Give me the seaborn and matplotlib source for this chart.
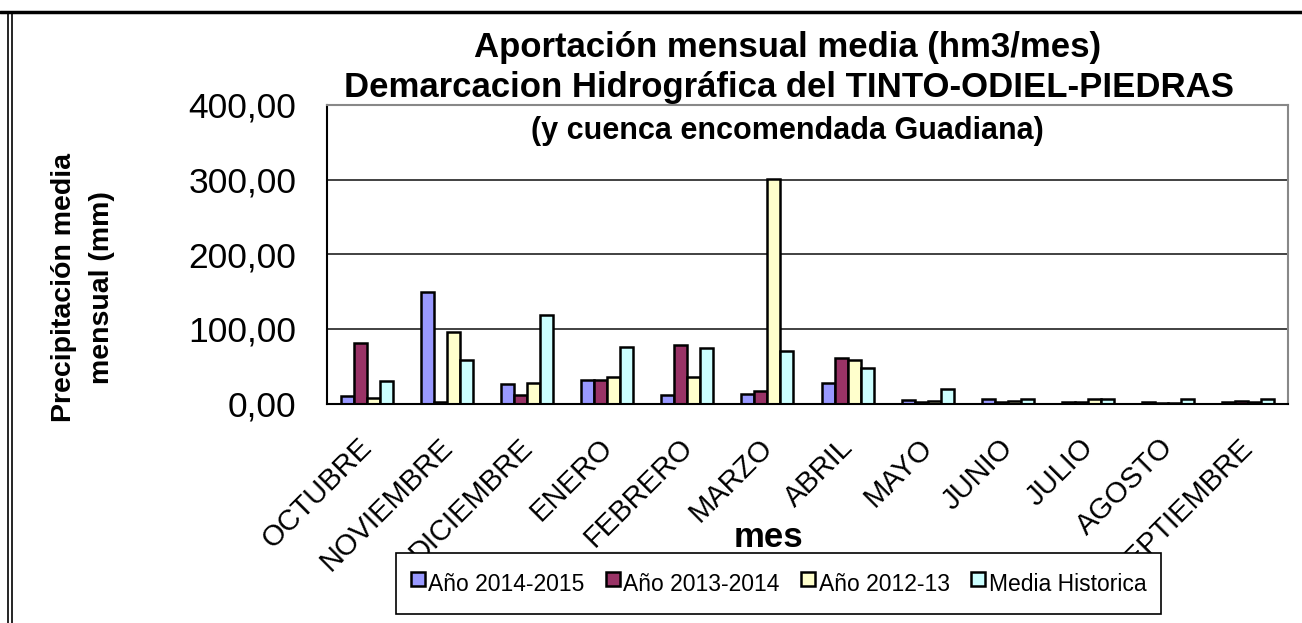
import numpy as np
import pandas as pd
import matplotlib
matplotlib.use("Agg")
import matplotlib.pyplot as plt
import seaborn as sns
from matplotlib.ticker import FuncFormatter, FixedLocator
from matplotlib.lines import Line2D
import matplotlib.transforms as mtransforms

meses = ["OCTUBRE", "NOVIEMBRE", "DICIEMBRE", "ENERO", "FEBRERO", "MARZO",
         "ABRIL", "MAYO", "JUNIO", "JULIO", "AGOSTO", "SEPTIEMBRE"]
series = ["Año 2014-2015", "Año 2013-2014", "Año 2012-13", "Media Historica"]
v_2014_2015 = [10, 149, 26, 32, 11.5, 13, 27, 5, 6, 1.5, 2, 1.5]
v_2013_2014 = [81, 2, 11.5, 32, 78, 17, 61, 2, 2, 1.5, 1, 3]
v_2012_13 = [7.5, 95.5, 27.5, 35.5, 35.5, 301, 58, 4, 3, 6, 0.5, 2]
v_media = [30, 58, 119, 76, 74.5, 71, 47, 20, 6, 6, 6, 6]
colores = ["#9999FF", "#993366", "#FFFFCC", "#CCFFFF"]
yticks = [0, 100, 200, 300, 400]

df = pd.DataFrame({
    "mes": meses * 4,
    "serie": np.repeat(series, len(meses)),
    "valor": v_2014_2015 + v_2013_2014 + v_2012_13 + v_media,
})

sns.set_style("white")
plt.rcParams["font.family"] = ["Liberation Sans", "DejaVu Sans"]
for k in ["text.color", "axes.labelcolor", "xtick.color", "ytick.color"]:
    plt.rcParams[k] = "black"

W, H = 1302, 623
fig = plt.figure(figsize=(W / 100, H / 100), dpi=100)
ax = fig.add_axes([327 / W, 1 - 403.5 / H, (1288 - 327) / W, (403.5 - 105) / H])

sns.barplot(data=df, x="mes", y="valor", hue="serie", order=meses,
            hue_order=series, palette=colores, width=0.65, saturation=1,
            edgecolor="black", linewidth=1.8, ax=ax, legend=False)

ax.set_ylim(0, 400)
ax.set_xlim(-0.5, len(meses) - 0.5)
ax.yaxis.set_major_locator(FixedLocator(yticks))
ax.yaxis.set_major_formatter(FuncFormatter(lambda v, p: f"{v:.2f}".replace(".", ",")))
ax.grid(axis="y", color="#333333", linewidth=1.3)
ax.set_axisbelow(True)

for s in ["left", "bottom"]:
    ax.spines[s].set_color("black")
    ax.spines[s].set_linewidth(1.5)
for s in ["top", "right"]:
    ax.spines[s].set_visible(True)
    ax.spines[s].set_color("#888888")
    ax.spines[s].set_linewidth(1.5)

# x ticks at category boundaries
ax.set_xticks(np.arange(-0.5, len(meses) + 0.5, 1), minor=True)
ax.tick_params(axis="x", which="minor", direction="out", length=9, width=1.2, color="black")
ax.tick_params(axis="x", which="major", length=0, pad=2)
ax.tick_params(axis="y", direction="out", length=8.6, width=1.2, color="black",
               labelsize=25.5, pad=13.5)
ax.set_xticks(range(len(meses)))
ax.set_xticklabels(meses, rotation=45, ha="right", va="top", rotation_mode="anchor", fontsize=21)
off = mtransforms.ScaledTranslation(-9 / 100, -27 / 100, fig.dpi_scale_trans)
for lab in ax.get_xticklabels():
    lab.set_transform(lab.get_transform() + off)

ax.set_ylabel("Precipitación media\nmensual (mm)", fontsize=20.5, fontweight="bold",
              linespacing=1.6)
ax.yaxis.set_label_coords((115 - 327) / 961, (403.5 - 288) / 298.5)
ax.set_xlabel("")
fig.text(768 / W, 1 - 547 / H, "mes", fontsize=25, fontweight="bold",
         ha="center", va="baseline", zorder=1)

# title
fig.text(788 / W, 1 - 48 / H, "Aportación mensual media (hm3/mes)", fontsize=25,
         fontweight="bold", ha="center", va="center")
fig.text(789 / W, 1 - 88 / H, "Demarcacion Hidrográfica del TINTO-ODIEL-PIEDRAS", fontsize=25,
         fontweight="bold", ha="center", va="center")
fig.text(787 / W, 1 - 131 / H, "(y cuenca encomendada Guadiana)", fontsize=22,
         fontweight="bold", ha="center", va="center")

# legend
handles = [Line2D([], [], marker="s", markersize=9.5, markerfacecolor=c,
                  markeredgecolor="black", markeredgewidth=1.8, linestyle="none")
           for c in colores]
leg = fig.legend(handles, series, ncol=4, loc="center",
                 bbox_to_anchor=(778.5 / W, 1 - 583.5 / H), bbox_transform=fig.transFigure,
                 frameon=True, fancybox=False, shadow=False, fontsize=16.5,
                 handlelength=0.6, handleheight=1.7, handletextpad=0.15, columnspacing=0.95,
                 borderpad=0.65, edgecolor="black", framealpha=1)
leg.get_frame().set_linewidth(1.2)
leg.set_zorder(5)

# outer frame
fig.add_artist(Line2D([0, 1], [1 - 12 / H, 1 - 12 / H], transform=fig.transFigure,
                      color="black", linewidth=2.5))
fig.add_artist(Line2D([8 / W, 8 / W], [0, 1 - 12 / H], transform=fig.transFigure,
                      color="black", linewidth=1.2))
fig.add_artist(Line2D([12 / W, 12 / W], [0, 1 - 12 / H], transform=fig.transFigure,
                      color="black", linewidth=1.2))

fig.savefig("out.png", dpi=100, facecolor="white")
